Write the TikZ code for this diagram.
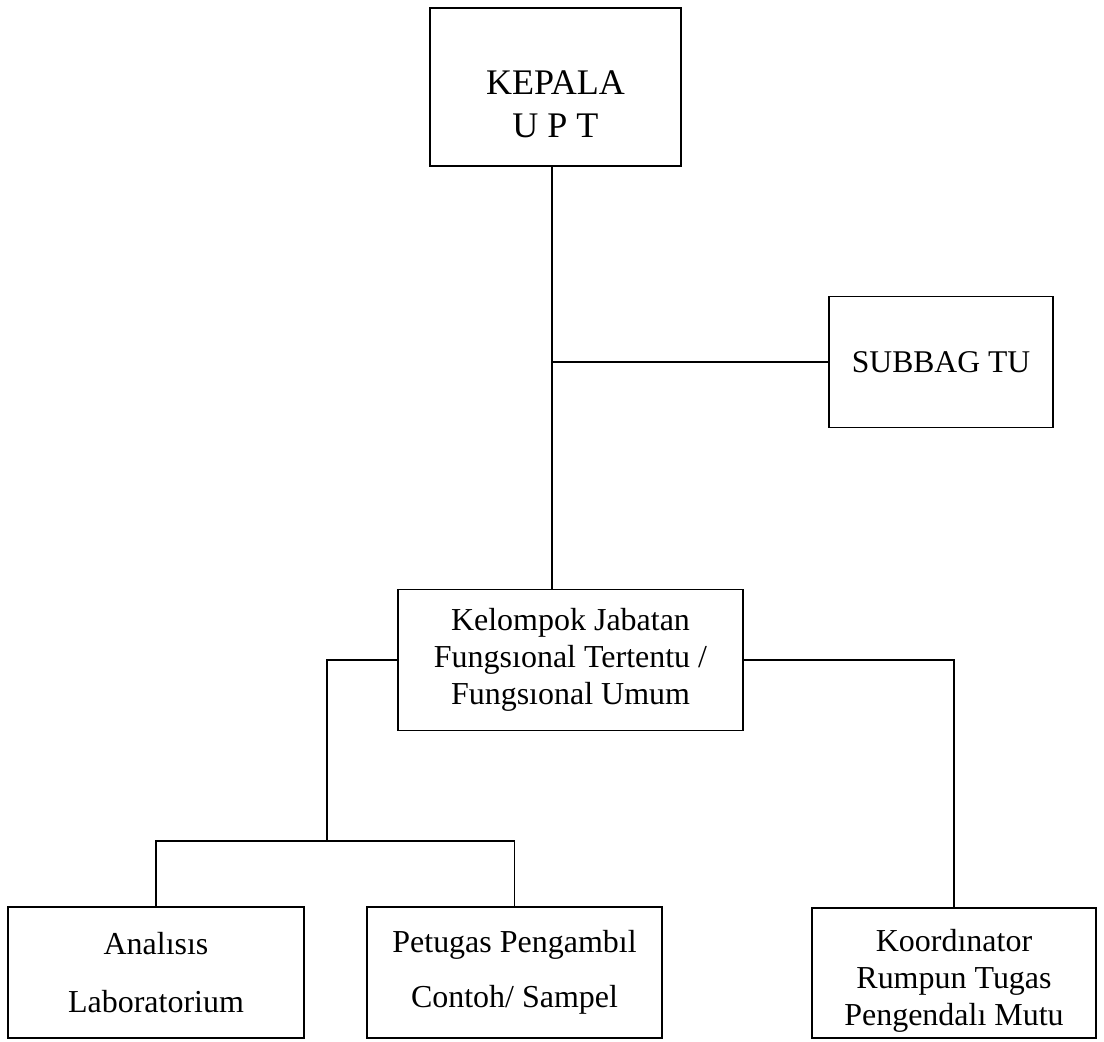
\documentclass[tikz,border=0pt]{standalone}
\usepackage{fontspec}
\setmainfont{Liberation Serif}
\usepackage{tikz}

\begin{document}
\begin{tikzpicture}[x=0.02cm,y=-0.02cm,line width=1pt,
  box/.style={draw,line width=1.1pt,inner sep=0pt,align=center},
  lines/.style={line width=1pt}]
\useasboundingbox (0,0) rectangle (1104,1041);

\node[box,minimum width=5.02cm,minimum height=3.16cm,font=\fontsize{20.5}{24.5}\selectfont] (kepala) at (555.5,87) {\rule{0pt}{1.15cm}KEPALA\\U P T};

\node[box,minimum width=4.48cm,minimum height=2.62cm,font=\fontsize{18}{22}\selectfont] (subbag) at (941,362) {SUBBAG TU};

\node[box,minimum width=6.9cm,minimum height=2.82cm,font=\fontsize{18.2}{21}\selectfont] (kelompok) at (570.5,660) {Kelompok Jabatan\\Fungsıonal Tertentu /\\Fungsıonal Umum};

\node[box,minimum width=5.92cm,minimum height=2.62cm,font=\fontsize{18.2}{33}\selectfont] (analisis) at (156,972.5) {Analısıs\\Laboratorium};
\node[box,minimum width=5.9cm,minimum height=2.62cm,font=\fontsize{18.2}{31}\selectfont] (petugas) at (514.5,972.5) {Petugas Pengambıl\\Contoh/ Sampel};

\node[box,minimum width=5.68cm,minimum height=2.6cm,font=\fontsize{18.2}{20.8}\selectfont] (koord) at (954,973) {\rule{0pt}{21.5pt}Koordınator\\Rumpun Tugas\\Pengendalı Mutu};

\coordinate (trunk) at (552,362);
\coordinate (lbranch) at (327,841);

\draw[lines] (trunk |- kepala.south) -- (trunk |- kelompok.north);
\draw[lines] (trunk) -- (subbag.west);
\draw[lines] (kelompok.west) -| (lbranch);
\draw[lines] (analisis.north) |- (lbranch) -| (petugas.north);
\draw[lines] (kelompok.east) -| (koord.north);

\end{tikzpicture}
\end{document}
